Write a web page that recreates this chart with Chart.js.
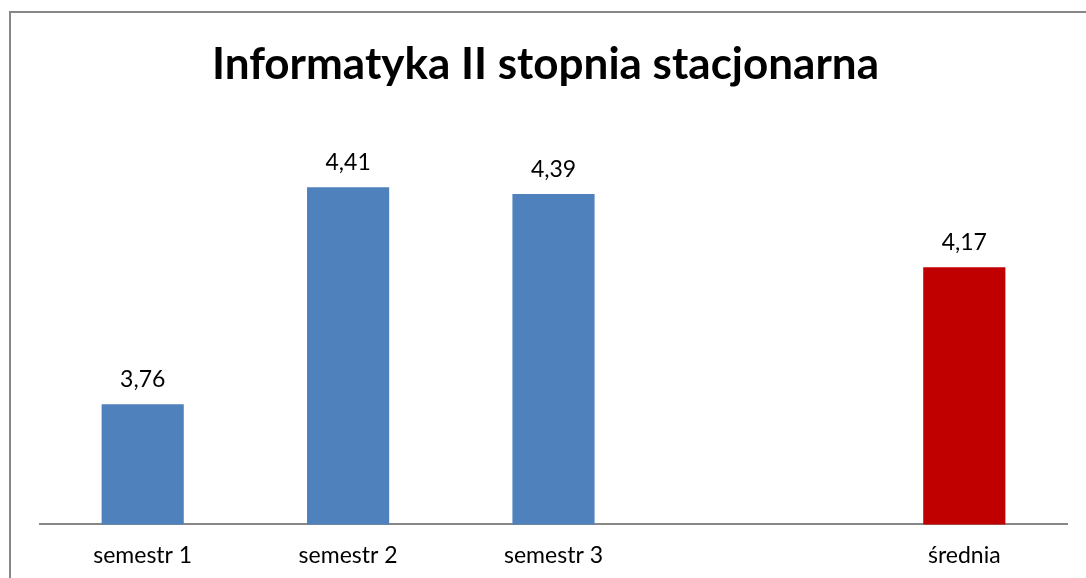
<!DOCTYPE html>
<html>
<head>
<meta charset="utf-8">
<script src="https://cdn.jsdelivr.net/npm/chart.js@4"></script>
<style>
  html, body { margin: 0; padding: 0; background: #fff; overflow: hidden; }
  #wrap { position: relative; width: 1086px; height: 578px; }
  #frame { position: absolute; left: 9px; top: 11px; width: 1100px; height: 600px; border: 2px solid #878787; box-sizing: border-box; pointer-events: none; }
</style>
</head>
<body>
<div id="wrap">
  <canvas id="chart" width="1086" height="578"></canvas>
  <div id="frame"></div>
</div>
<script>
const categories = ['semestr 1', 'semestr 2', 'semestr 3', '', 'średnia'];
const averages = [3.76, 4.41, 4.39, null, 4.17];
const barColors = ['#4F81BD', '#4F81BD', '#4F81BD', '#4F81BD', '#C00000'];

// value labels above each bar, Polish decimal comma
const valueLabels = {
    id: 'valueLabels',
    afterDatasetsDraw(chart) {
        const ctx = chart.ctx;
        const meta = chart.getDatasetMeta(0);
        ctx.save();
        ctx.font = '23px Lato';
        ctx.fillStyle = '#000';
        ctx.textAlign = 'center';
        ctx.textBaseline = 'bottom';
        meta.data.forEach((bar, i) => {
            const v = chart.data.datasets[0].data[i];
            if (v == null) return;
            ctx.fillText(v.toFixed(2).replace('.', ','), bar.x, bar.y - 13);
        });
        ctx.restore();
    }
};

new Chart(document.getElementById('chart').getContext('2d'), {
    type: 'bar',
    data: {
        labels: categories,
        datasets: [{
            data: averages,
            backgroundColor: barColors,
            categoryPercentage: 1,
            barPercentage: 0.4
        }]
    },
    options: {
        responsive: false,
        animation: false,
        layout: { padding: { left: 24, right: 19, top: 0, bottom: -8 } },
        plugins: {
            legend: { display: false },
            tooltip: { enabled: false },
            title: {
                display: true,
                text: 'Informatyka II stopnia stacjonarna',
                color: '#000',
                font: { family: 'Lato', size: 44, weight: 'bold' },
                padding: { top: 38, bottom: 33 }
            }
        },
        scales: {
            x: {
                grid: { display: false, drawTicks: false },
                border: { display: true, color: '#888', width: 2 },
                ticks: { color: '#000', font: { family: 'Lato', size: 23 }, padding: 17 }
            },
            y: {
                min: 3.4,
                max: 4.6,
                grid: { display: false },
                border: { display: false },
                ticks: { display: false },
                // hidden axis that only reserves the left margin
                afterFit(scale) { scale.width = 16; }
            }
        }
    },
    plugins: [valueLabels]
});
</script>
</body>
</html>
